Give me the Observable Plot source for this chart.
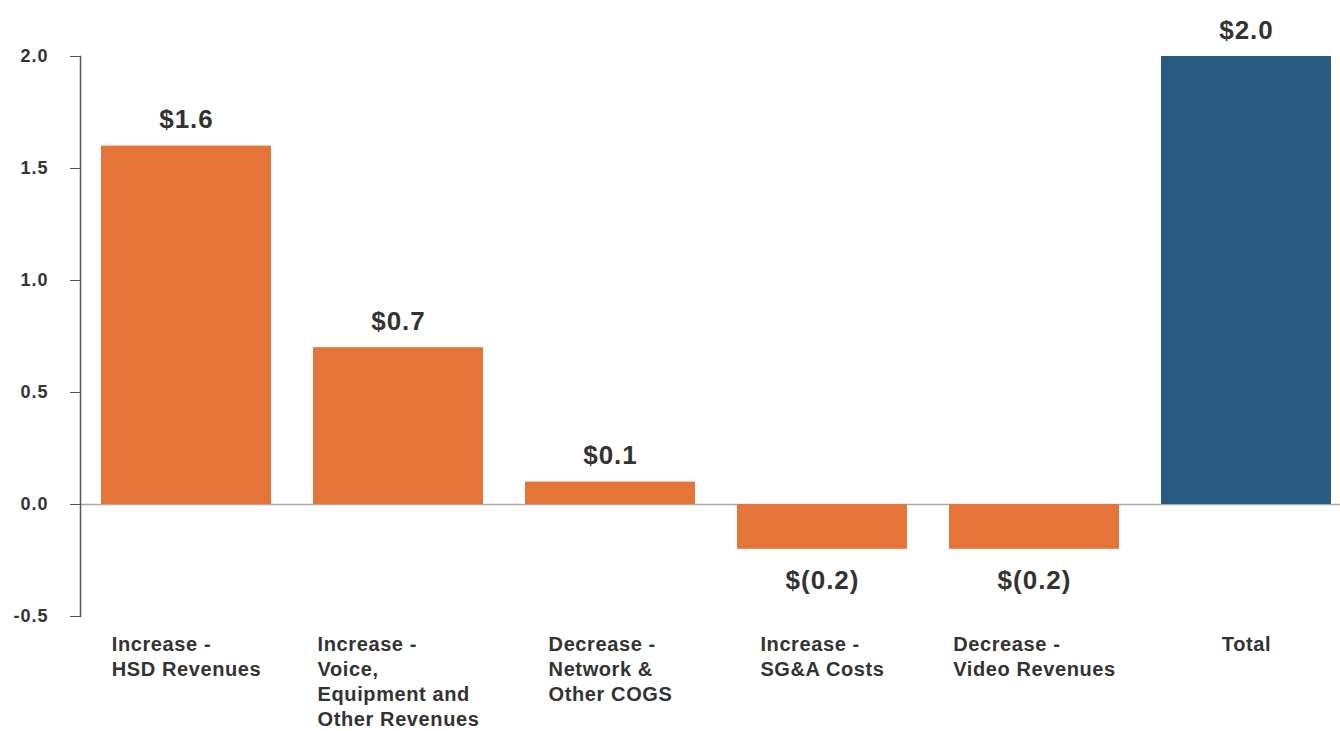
<!DOCTYPE html>
<html>
<head>
<meta charset="utf-8">
<script src="https://cdn.jsdelivr.net/npm/d3@7"></script>
<script src="https://cdn.jsdelivr.net/npm/@observablehq/plot@0.6"></script>
<style>
  html, body { margin: 0; padding: 0; background: #fff; }
</style>
</head>
<body>
<script>
const categories = [
  "Increase -\nHSD Revenues",
  "Increase -\nVoice,\nEquipment and\nOther Revenues",
  "Decrease -\nNetwork &\nOther COGS",
  "Increase -\nSG&A Costs",
  "Decrease -\nVideo Revenues",
  "Total"
];
const values = [1.6, 0.7, 0.1, -0.2, -0.2, 2.0];
const yTicks = [-0.5, 0.0, 0.5, 1.0, 1.5, 2.0];

const ORANGE = "#E57438";
const BLUE = "#285B81";

const data = categories.map((c, i) => ({cat: c, value: values[i], isTotal: c === "Total"}));
const fmt = v => v >= 0 ? `$${v.toFixed(1)}` : `$(${(-v).toFixed(1)})`;

const chart = Plot.plot({
  width: 1340,
  height: 731,
  marginLeft: 80,
  marginRight: 0,
  marginTop: 56,
  marginBottom: 115,
  style: {fontFamily: "'Liberation Sans', Arial, sans-serif", fontWeight: "bold", color: "#333", background: "#fff"},
  x: {domain: categories, paddingInner: 0.2, paddingOuter: 0.0675, align: 0.7, axis: null},
  y: {domain: [-0.5, 2.0], axis: null},
  marks: [
    Plot.ruleY([0], {stroke: "#aaa", strokeWidth: 1.5}),
    Plot.barY(data, {x: "cat", y: "value", fill: d => d.isTotal ? BLUE : ORANGE}),
    Plot.axisY({ticks: yTicks, tickFormat: d => d.toFixed(1), tickSize: 10, tickPadding: 22, fontSize: 18, fontWeight: "bold", stroke: "#555", label: null, color: "#333"}),
    Plot.frame({anchor: "left", stroke: "#555", strokeWidth: 1.5}),
    Plot.text(data.filter(d => d.value >= 0), {x: "cat", y: "value", text: d => fmt(d.value), dy: -26, lineAnchor: "middle", fontSize: 26, fontWeight: "bold", fill: "#333"}),
    Plot.text(data.filter(d => d.value < 0), {x: "cat", y: "value", text: d => fmt(d.value), dy: 31, lineAnchor: "middle", fontSize: 26, fontWeight: "bold", fill: "#333"}),
    Plot.text(data, {x: "cat", text: "cat", frameAnchor: "bottom", lineAnchor: "top", textAnchor: "start", dy: 17, fontSize: 20, lineHeight: 1.25, fontWeight: "bold", fill: "#333"})
  ]
});
document.body.append(chart);

const flatCats = categories.map(c => c.replace(/\n/g, ""));
chart.querySelectorAll("text").forEach(t => {
  const s = t.textContent;
  if (flatCats.includes(s)) {
    // category label: left-aligned block, centered under its bar
    t.style.letterSpacing = "0.6px";
    const w = t.getBBox().width;
    t.setAttribute("transform", (t.getAttribute("transform") || "") + ` translate(${-w / 2},0)`);
  } else {
    t.style.letterSpacing = "1px";
  }
});
</script>
</body>
</html>
